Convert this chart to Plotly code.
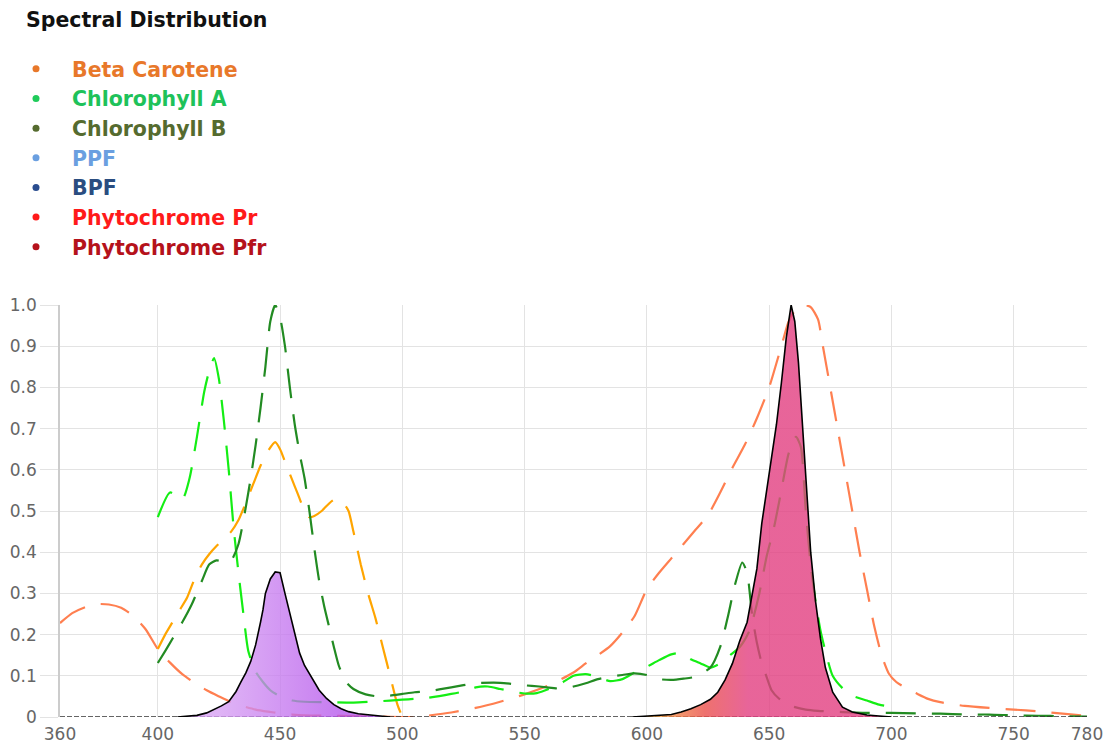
import plotly.graph_objects as go

# ---------------- data ----------------
x_tickvals = [360, 400, 450, 500, 550, 600, 650, 700, 750, 780]
x_ticktext = ["360", "400", "450", "500", "550", "600", "650", "700", "750", "780"]
y_tickvals = [0, 0.1, 0.2, 0.3, 0.4, 0.5, 0.6, 0.7, 0.8, 0.9, 1.0]
y_ticktext = ["0", "0.1", "0.2", "0.3", "0.4", "0.5", "0.6", "0.7", "0.8", "0.9", "1.0"]

chart_title = "Spectral Distribution"
legend_names = ["Beta Carotene", "Chlorophyll A", "Chlorophyll B", "PPF", "BPF",
                "Phytochrome Pr", "Phytochrome Pfr"]
legend_dot_colors = ["#E8782A", "#1FCB5A", "#556B2F", "#6A9FE0", "#2A4D8F", "#FF1A1A", "#B5121B"]
legend_text_colors = ["#E8782A", "#1EC25A", "#556B2F", "#6A9FE0", "#2A4D80", "#FF1A1A", "#B5121B"]

# Beta Carotene
bc_wl = [400, 403, 406, 409, 412, 415, 418, 421, 424, 427, 430, 433, 436, 439, 442, 445, 448,
         450, 452, 454, 456, 458, 460, 462, 464, 467, 470, 472, 474, 476, 478, 480, 483, 486,
         489, 492, 495, 498, 500]
bc_val = [0.165, 0.2, 0.23, 0.26, 0.29, 0.335, 0.37, 0.395, 0.415, 0.432, 0.45, 0.478, 0.52,
          0.565, 0.61, 0.645, 0.667, 0.65, 0.62, 0.59, 0.56, 0.53, 0.5, 0.485, 0.488, 0.5,
          0.518, 0.527, 0.526, 0.518, 0.5, 0.45, 0.37, 0.3, 0.24, 0.17, 0.1, 0.03, 0.0]

# Chlorophyll A
ca_wl = [400, 405, 410, 413, 416, 419, 421, 423, 425, 427, 429, 431, 433, 435, 437, 440, 443,
         446, 450, 455, 460, 470, 480, 490, 500, 505, 510, 520, 525, 530, 535, 540, 545, 550,
         555, 560, 565, 570, 575, 580, 585, 590, 595, 600, 605, 610, 614, 618, 622, 626, 630,
         634, 638, 642, 646, 649, 652, 655, 658, 661, 663, 665, 667, 669, 671, 673, 676, 680,
         684, 690, 695, 700]
ca_val = [0.485, 0.545, 0.528, 0.58, 0.68, 0.79, 0.84, 0.871, 0.82, 0.72, 0.6, 0.46, 0.35,
          0.25, 0.16, 0.11, 0.085, 0.065, 0.05, 0.04, 0.037, 0.036, 0.035, 0.038, 0.042, 0.044,
          0.046, 0.056, 0.062, 0.072, 0.074, 0.068, 0.062, 0.057, 0.058, 0.068, 0.082, 0.1,
          0.104, 0.097, 0.087, 0.092, 0.108, 0.122, 0.138, 0.152, 0.155, 0.14, 0.13, 0.12,
          0.13, 0.15, 0.17, 0.21, 0.3, 0.39, 0.46, 0.55, 0.64, 0.68, 0.655, 0.5, 0.37, 0.28,
          0.21, 0.16, 0.1, 0.07, 0.052, 0.04, 0.03, 0.025]

# Chlorophyll B
cb_wl = [400, 403, 406, 410, 414, 418, 421, 424, 427, 430, 433, 436, 438, 440, 442, 444, 446,
         448, 450, 452, 454, 456, 458, 460, 462, 464, 466, 468, 470, 472, 474, 477, 480, 485,
         490, 495, 500, 505, 510, 520, 530, 540, 550, 556, 562, 566, 570, 575, 580, 585, 590,
         595, 600, 605, 610, 615, 620, 626, 630, 633, 636, 639, 641, 643, 645, 647, 649, 651,
         654, 657, 660, 665, 670, 680, 690, 700, 710, 720, 730, 740, 750, 760, 770, 780]
cb_val = [0.131, 0.16, 0.19, 0.23, 0.275, 0.33, 0.37, 0.38, 0.377, 0.38, 0.42, 0.51, 0.58,
          0.66, 0.75, 0.85, 0.96, 1.0, 0.97, 0.9, 0.8, 0.71, 0.64, 0.58, 0.5, 0.41, 0.33, 0.27,
          0.22, 0.17, 0.125, 0.085, 0.068, 0.055, 0.05, 0.052, 0.056, 0.06, 0.062, 0.072,
          0.082, 0.083, 0.077, 0.074, 0.07, 0.068, 0.074, 0.082, 0.092, 0.098, 0.102, 0.106,
          0.102, 0.092, 0.09, 0.093, 0.098, 0.12, 0.17, 0.24, 0.32, 0.375, 0.35, 0.25, 0.18,
          0.13, 0.097, 0.065, 0.045, 0.033, 0.025, 0.018, 0.015, 0.012, 0.01, 0.01, 0.009,
          0.008, 0.006, 0.006, 0.004, 0.003, 0.002, 0.001]

# Phytochrome Pr
pr_wl = [360, 365, 370, 375, 380, 385, 390, 395, 400, 405, 410, 415, 420, 425, 430, 435, 440,
         445, 450, 455, 460, 470, 480, 490, 500, 505, 510, 520, 530, 540, 550, 560, 570, 575,
         580, 585, 590, 595, 600, 605, 610, 615, 620, 625, 630, 635, 640, 645, 650, 655, 658,
         661, 664, 667, 670, 672, 675, 678, 681, 684, 687, 690, 693, 696, 699, 702, 706, 710,
         715, 720, 730, 740, 750, 760, 770, 780]
pr_val = [0.228, 0.252, 0.266, 0.274, 0.273, 0.265, 0.245, 0.213, 0.165, 0.132, 0.104, 0.083,
          0.065, 0.05, 0.036, 0.026, 0.018, 0.013, 0.009, 0.006, 0.004, 0.003, 0.002, 0.001,
          0.0, 0.0, 0.003, 0.011, 0.022, 0.037, 0.055, 0.077, 0.108, 0.13, 0.15, 0.172, 0.205,
          0.245, 0.31, 0.35, 0.385, 0.42, 0.455, 0.49, 0.545, 0.605, 0.66, 0.725, 0.8, 0.9,
          0.96, 0.99, 1.0, 0.995, 0.965, 0.9, 0.8, 0.7, 0.6, 0.5, 0.4, 0.31, 0.22, 0.15, 0.105,
          0.085, 0.07, 0.058, 0.044, 0.036, 0.027, 0.022, 0.018, 0.014, 0.008, 0.003]

# Blue light source spectrum
blue_wl = [408, 412, 416, 420, 423, 426, 429, 432, 434, 436, 438, 440, 442, 443, 444, 446, 448,
           450, 452, 454, 456, 458, 460, 463, 466, 469, 472, 475, 478, 482, 486, 490, 495]
blue_val = [0, 0.002, 0.004, 0.01, 0.018, 0.027, 0.037, 0.062, 0.085, 0.107, 0.135, 0.175,
            0.23, 0.26, 0.3, 0.335, 0.352, 0.35, 0.3, 0.25, 0.2, 0.155, 0.125, 0.095, 0.065,
            0.045, 0.03, 0.02, 0.013, 0.008, 0.005, 0.003, 0]

# Red light source spectrum
red_wl = [594, 600, 605, 610, 614, 618, 622, 626, 629, 632, 635, 638, 641, 643, 645, 647, 649,
          651, 653, 655, 657, 659, 660.5, 662, 663.5, 665, 667, 669, 671, 673, 676, 680, 684,
          690, 696, 700]
red_val = [0, 0.002, 0.003, 0.006, 0.012, 0.02, 0.03, 0.043, 0.06, 0.09, 0.13, 0.185, 0.23,
           0.3, 0.36, 0.47, 0.55, 0.63, 0.71, 0.81, 0.92, 1.0, 0.96, 0.86, 0.72, 0.56, 0.4,
           0.28, 0.19, 0.12, 0.06, 0.024, 0.012, 0.005, 0.002, 0]

baseline_wl = [360, 780]
baseline_val = [0, 0]

# ---------------- figure ----------------
DASH = "30px,16px"
fig = go.Figure()

curves = [
    (pr_wl, pr_val, "#FF7F50", "Phytochrome Pr"),
    (bc_wl, bc_val, "#FFA500", "Beta Carotene"),
    (ca_wl, ca_val, "#14EE14", "Chlorophyll A"),
    (cb_wl, cb_val, "#228B22", "Chlorophyll B"),
]
for xs, ys, col, nm in curves:
    fig.add_trace(go.Scatter(x=xs, y=ys, mode="lines", name=nm, showlegend=False,
                             line=dict(color=col, width=2.2, dash=DASH, shape="spline",
                                       smoothing=0.6),
                             hoverinfo="x+y+name"))

fig.add_trace(go.Scatter(x=baseline_wl, y=baseline_val, mode="lines", showlegend=False,
                         line=dict(color="#333333", width=1.6, dash="5px,2px"),
                         hoverinfo="skip"))

fig.add_trace(go.Scatter(
    x=blue_wl, y=blue_val, mode="lines", fill="tozeroy", showlegend=False, name="Blue source",
    line=dict(color="black", width=1.6),
    fillgradient=dict(type="horizontal", start=425, stop=475,
                      colorscale=[[0, "rgba(214,158,243,0.78)"], [1, "rgba(182,86,236,0.78)"]])))

fig.add_trace(go.Scatter(
    x=red_wl, y=red_val, mode="lines", fill="tozeroy", showlegend=False, name="Red source",
    line=dict(color="black", width=1.6),
    fillgradient=dict(type="horizontal", start=604, stop=648,
                      colorscale=[[0, "rgba(244,165,70,0.8)"], [0.45, "rgba(234,78,74,0.8)"],
                                  [0.85, "rgba(226,62,128,0.8)"], [1, "rgba(226,62,128,0.8)"]])))

for i, (nm, dc, tc) in enumerate(zip(legend_names, legend_dot_colors, legend_text_colors)):
    fig.add_trace(go.Scatter(
        x=[None], y=[None], mode="markers", legendgroup=f"g{i}",
        name=f"<span style='color:{tc}'><b>{nm}</b></span>",
        marker=dict(color=dc, size=7, symbol="circle")))

fig.add_annotation(
    text=f"<b>{chart_title}</b>", xref="paper", yref="paper",
    x=(24 - 60) / 1027, y=(717 - 20) / 412, xanchor="left", yanchor="middle",
    showarrow=False, font=dict(family="DejaVu Sans", size=20.5, color="#111111"))

fig.update_layout(
    width=1108, height=745,
    margin=dict(l=60, r=21, t=305, b=28, autoexpand=False),
    paper_bgcolor="white", plot_bgcolor="white",
    showlegend=True,
    legend=dict(
        xref="container", yref="container", x=0.0, y=1 - 49 / 745,
        xanchor="left", yanchor="top",
        font=dict(family="DejaVu Sans", size=20.5),
        tracegroupgap=0, itemwidth=62, bgcolor="rgba(0,0,0,0)",
    ),
    xaxis=dict(range=[360, 780], tickmode="array", tickvals=x_tickvals, ticktext=x_ticktext,
               showgrid=True, gridcolor="#e3e3e3", gridwidth=1, zeroline=False,
               ticks="outside", ticklen=2, tickcolor="rgba(0,0,0,0)",
               tickfont=dict(family="DejaVu Sans", size=17, color="#666666"),
               showline=False),
    yaxis=dict(range=[0, 1.0], tickmode="array", tickvals=y_tickvals, ticktext=y_ticktext,
               showgrid=True, gridcolor="#e3e3e3", gridwidth=1, zeroline=False,
               ticks="outside", ticklen=18, tickcolor="#e3e3e3",
               tickfont=dict(family="DejaVu Sans", size=17, color="#666666"),
               showline=True, linecolor="#cccccc", linewidth=1.5),
)

fig.write_html("out.html")
